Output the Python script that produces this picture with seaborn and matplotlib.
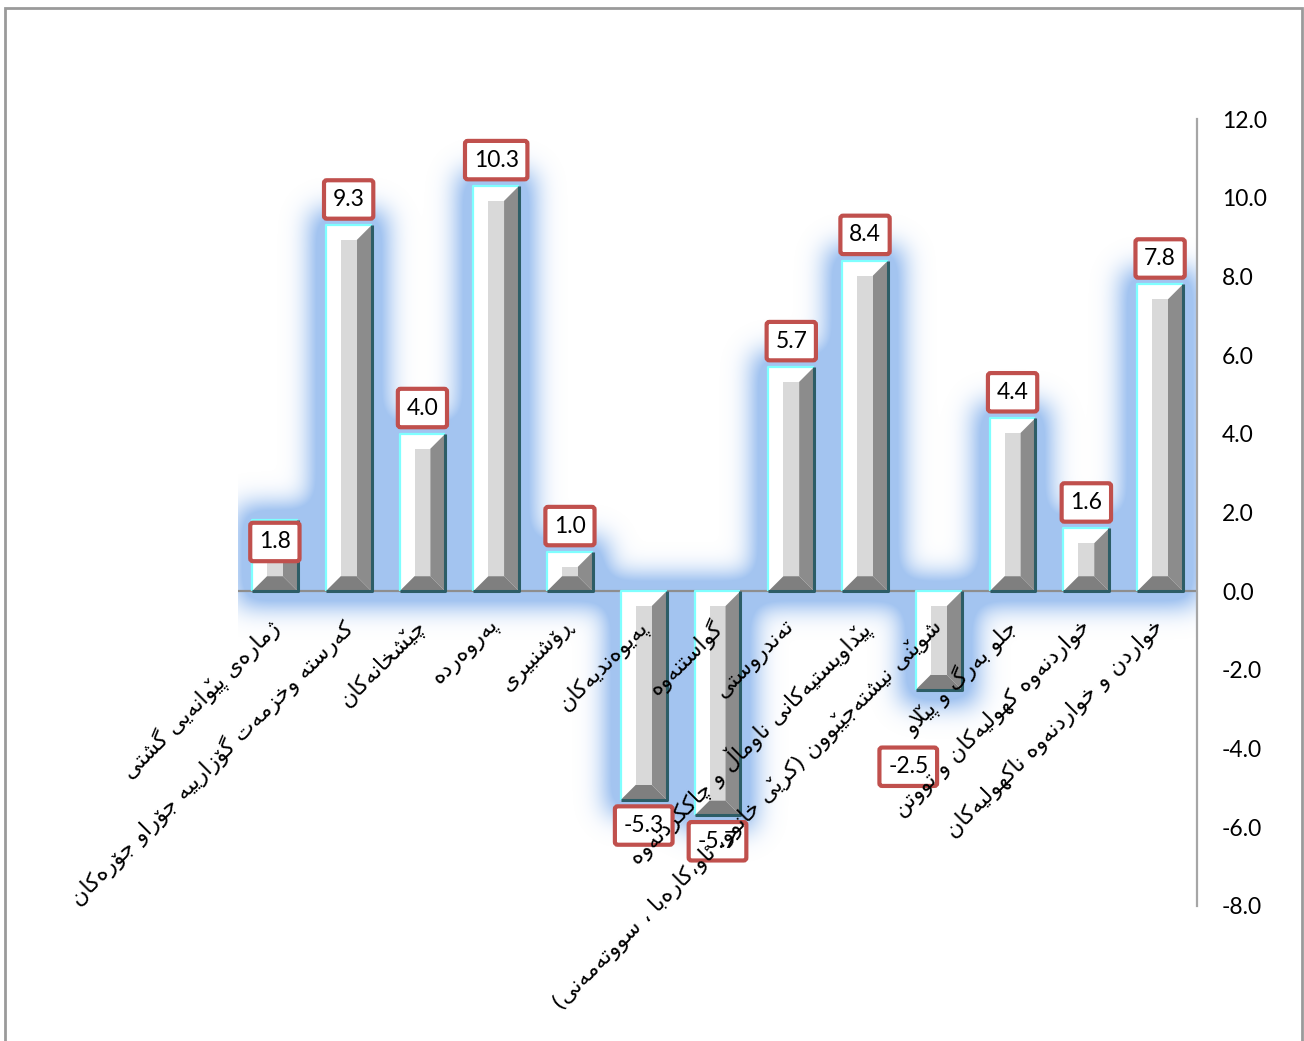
import numpy as np
import pandas as pd
import matplotlib
matplotlib.use("Agg")
import matplotlib.pyplot as plt
from matplotlib.patches import Polygon, Rectangle
import seaborn as sns

# chart data, left to right as in the original
categories = [
    "ژمارەی پێوانەیی گشتی",
    "کەرستە وخزمەت گۆزارییە جۆراو جۆرەکان",
    "چێشخانەکان",
    "پەروەردە",
    "ڕۆشنبیری",
    "پەیوەندیەکان",
    "گواستنەوە",
    "تەندروستی",
    "پێداویستیەکانی ناوماڵ و چاککردنەوە",
    "شوێنی نیشتەجێبوون (کرێی خانوو، ئاو،کارەبا ، سووتەمەنی)",
    "جلو بەرگ و پێڵاو",
    "خواردنەوە کهولیەکان و تووتن",
    "خواردن و خواردنەوە ناکهولیەکان",
]
values = [1.8, 9.3, 4.0, 10.3, 1.0, -5.3, -5.7, 5.7, 8.4, -2.5, 4.4, 1.6, 7.8]
y_ticks = [-8, -6, -4, -2, 0, 2, 4, 6, 8, 10, 12]

# colours
GLOW = (120, 170, 235)
FACE = "#d9d9d9"
DARK = "#8c8c8c"
BOTTOM = "#7f7f7f"
EDGE_LIGHT = "#7fffff"
EDGE_DARK = "#2d5d66"
BOX_EDGE = "#c0504d"


# matplotlib has no arabic shaping, so pick presentation forms by hand
MARK = "\u030c"  # caron stands in for the small v of the kurdish letters
DUAL = {  # isolated, final, initial, medial
    "ب": ("\ufe8f", "\ufe90", "\ufe91", "\ufe92"),
    "ت": ("\ufe95", "\ufe96", "\ufe97", "\ufe98"),
    "ج": ("\ufe9d", "\ufe9e", "\ufe9f", "\ufea0"),
    "خ": ("\ufea5", "\ufea6", "\ufea7", "\ufea8"),
    "س": ("\ufeb1", "\ufeb2", "\ufeb3", "\ufeb4"),
    "ش": ("\ufeb5", "\ufeb6", "\ufeb7", "\ufeb8"),
    "ل": ("\ufedd", "\ufede", "\ufedf", "\ufee0"),
    "م": ("\ufee1", "\ufee2", "\ufee3", "\ufee4"),
    "ن": ("\ufee5", "\ufee6", "\ufee7", "\ufee8"),
    "ه": ("\ufee9", "\ufeea", "\ufeeb", "\ufeec"),
    "ئ": ("\ufe89", "\ufe8a", "\ufe8b", "\ufe8c"),
    "پ": ("\ufb56", "\ufb57", "\ufb58", "\ufb59"),
    "چ": ("\ufb7a", "\ufb7b", "\ufb7c", "\ufb7d"),
    "ک": ("\ufb8e", "\ufb8f", "\ufb90", "\ufb91"),
    "گ": ("\ufb92", "\ufb93", "\ufb94", "\ufb95"),
    "ی": ("\ufbfc", "\ufbfd", "\ufbfe", "\ufbff"),
    "ێ": ("\u06ce", "\ufbfd" + MARK, "\ufbfe" + MARK, "\ufbff" + MARK),
    "ڵ": ("\u06b5", "\ufede", "\ufedf", "\ufee0"),
}
RIGHT = {  # isolated, final
    "ا": ("\ufe8d", "\ufe8e"),
    "د": ("\ufea9", "\ufeaa"),
    "ر": ("\ufead", "\ufeae"),
    "ز": ("\ufeaf", "\ufeb0"),
    "ژ": ("\ufb8a", "\ufb8b"),
    "و": ("\ufeed", "\ufeee"),
    "ۆ": ("\ufbd9", "\ufbda"),
    "ە": ("\u06d5", "\ufeea"),
    "ڕ": ("\u0695", "\u0695"),
}
MIRROR = {"(": ")", ")": "("}


def kind(c):
    if c in DUAL:
        return "D"
    if c in RIGHT:
        return "R"
    return None


def shape_rtl(text):
    out = []
    i = 0
    n = len(text)
    while i < n:
        c = text[i]
        k = kind(c)
        if k is None:
            out.append(MIRROR.get(c, c))
            i += 1
            continue
        prev = text[i - 1] if i > 0 else ""
        nxt = text[i + 1] if i + 1 < n else ""
        jp = kind(prev) == "D"
        if c in ("ل", "ڵ") and nxt == "ا":
            out.append("\ufefc" if jp else "\ufefb")
            i += 2
            continue
        jn = k == "D" and kind(nxt) is not None
        if k == "R":
            out.append(RIGHT[c][1 if jp else 0])
        else:
            out.append(DUAL[c][(1 if jp else 0) + (2 if jn else 0)])
        i += 1
    return "".join(reversed(out))


sns.set_theme(style="white")
plt.rcParams["font.family"] = ["Lato", "DejaVu Sans"]

df = pd.DataFrame({"category": categories, "value": values})

fig = plt.figure(figsize=(13.04, 10.41), dpi=100)
ax = fig.add_axes([238 / 1304, 135 / 1041, 959 / 1304, 787 / 1041])
sns.barplot(data=df, x="category", y="value", color="white", saturation=1,
            width=0.62, ax=ax, zorder=2, linewidth=0)
ax.set_xlim(-0.5, 12.5)
ax.set_ylim(-8, 12)
bars = list(ax.patches)

px_x = ax.bbox.width / 13
px_y = ax.bbox.height / 20

# soft blue glow behind the bars
nx, ny = int(round(ax.bbox.width)), int(round(ax.bbox.height))
gx = -0.5 + (np.arange(nx) + 0.5) * 13 / nx
gy = -8 + (np.arange(ny) + 0.5) * 20 / ny
mask = np.zeros((ny, nx))
grow = 14
for p in bars:
    xl, xr = p.get_x(), p.get_x() + p.get_width()
    yb, yt = sorted([p.get_y(), p.get_y() + p.get_height()])
    sx = (gx >= xl - grow / px_x) & (gx <= xr + grow / px_x)
    sy = (gy >= yb - grow / px_y) & (gy <= yt + grow / px_y)
    mask[np.ix_(sy, sx)] = 1
kern = np.exp(-0.5 * (np.arange(-45, 46) / 13.0) ** 2)
kern /= kern.sum()
blur = np.apply_along_axis(lambda r: np.convolve(r, kern, mode="same"), 1, mask)
blur = np.apply_along_axis(lambda c: np.convolve(c, kern, mode="same"), 0, blur)
glow = np.zeros((ny, nx, 4))
glow[..., :3] = np.array(GLOW) / 255
glow[..., 3] = 0.68 * np.clip(blur * 1.6, 0, 1)
ax.imshow(glow, extent=(-0.5, 12.5, -8, 12), origin="lower", aspect="auto",
          zorder=0.5, interpolation="bilinear")
ax.set_xlim(-0.5, 12.5)
ax.set_ylim(-8, 12)

ax.axhline(0, color="#8e8e8e", lw=1.6, zorder=1.5)

# bevelled bar faces
bev = 15
for p in bars:
    xl, xr = p.get_x(), p.get_x() + p.get_width()
    yb, yt = sorted([p.get_y(), p.get_y() + p.get_height()])
    bx = bev / px_x
    by = min(bev / px_y, (yt - yb) / 2 * 0.9)
    ax.add_patch(Polygon([(xr, yt), (xr, yb), (xr - bx, yb + by), (xr - bx, yt - by)],
                         closed=True, fc=DARK, ec="none", zorder=3))
    ax.add_patch(Polygon([(xl, yb), (xr, yb), (xr - bx, yb + by), (xl + bx, yb + by)],
                         closed=True, fc=BOTTOM, ec="none", zorder=3))
    ax.add_patch(Rectangle((xl + bx, yb + by), (xr - xl) - 2 * bx, (yt - yb) - 2 * by,
                           fc=FACE, ec="none", zorder=3))
    ax.plot([xl, xl, xr], [yb, yt, yt], color=EDGE_LIGHT, lw=1.6, zorder=4,
            solid_capstyle="butt")
    ax.plot([xl, xr, xr], [yb, yb, yt], color=EDGE_DARK, lw=2.2, zorder=4,
            solid_capstyle="butt")

# value labels, two of them moved by hand in the original
nudge = {0: (0, -8, "top"), 9: (-22, -48, "top")}
for i, (v, p) in enumerate(zip(values, bars)):
    if v >= 0:
        dx, dy, va = nudge.get(i, (0, 11, "bottom"))
    else:
        dx, dy, va = nudge.get(i, (0, -11, "top"))
    ax.annotate(f"{v:.1f}", xy=(p.get_x() + p.get_width() / 2, v),
                xytext=(dx, dy), textcoords="offset points",
                ha="center", va=va, fontsize=16.5, color="black", zorder=5,
                bbox=dict(boxstyle="round,pad=0.38,rounding_size=0.12",
                          fc="white", ec=BOX_EDGE, lw=3))

# category labels
for i, name in enumerate(categories):
    ax.text(i - 0.1, -0.62, shape_rtl(name), rotation=45, rotation_mode="anchor",
            ha="right", va="top", fontsize=16, family="DejaVu Sans",
            color="black", zorder=6)

ax.set_xticks([])
ax.set_xlabel("")
ax.set_ylabel("")
ax.yaxis.tick_right()
ax.set_yticks(y_ticks)
ax.set_yticklabels([f"{t:.1f}" for t in y_ticks])
ax.tick_params(axis="y", length=0, pad=18, labelsize=16.5, colors="black")
for side in ["top", "left", "bottom"]:
    ax.spines[side].set_visible(False)
ax.spines["right"].set_color("#a6a6a6")
ax.spines["right"].set_linewidth(1.6)

# thin frame round the chart
fig.add_artist(Rectangle((5 / 1304, -0.01), 1297 / 1304, 1 - 8 / 1041 + 0.01,
                         transform=fig.transFigure, fill=False, ec="#9a9a9a", lw=2))

fig.savefig("out.png", dpi=100)
plt.close(fig)
